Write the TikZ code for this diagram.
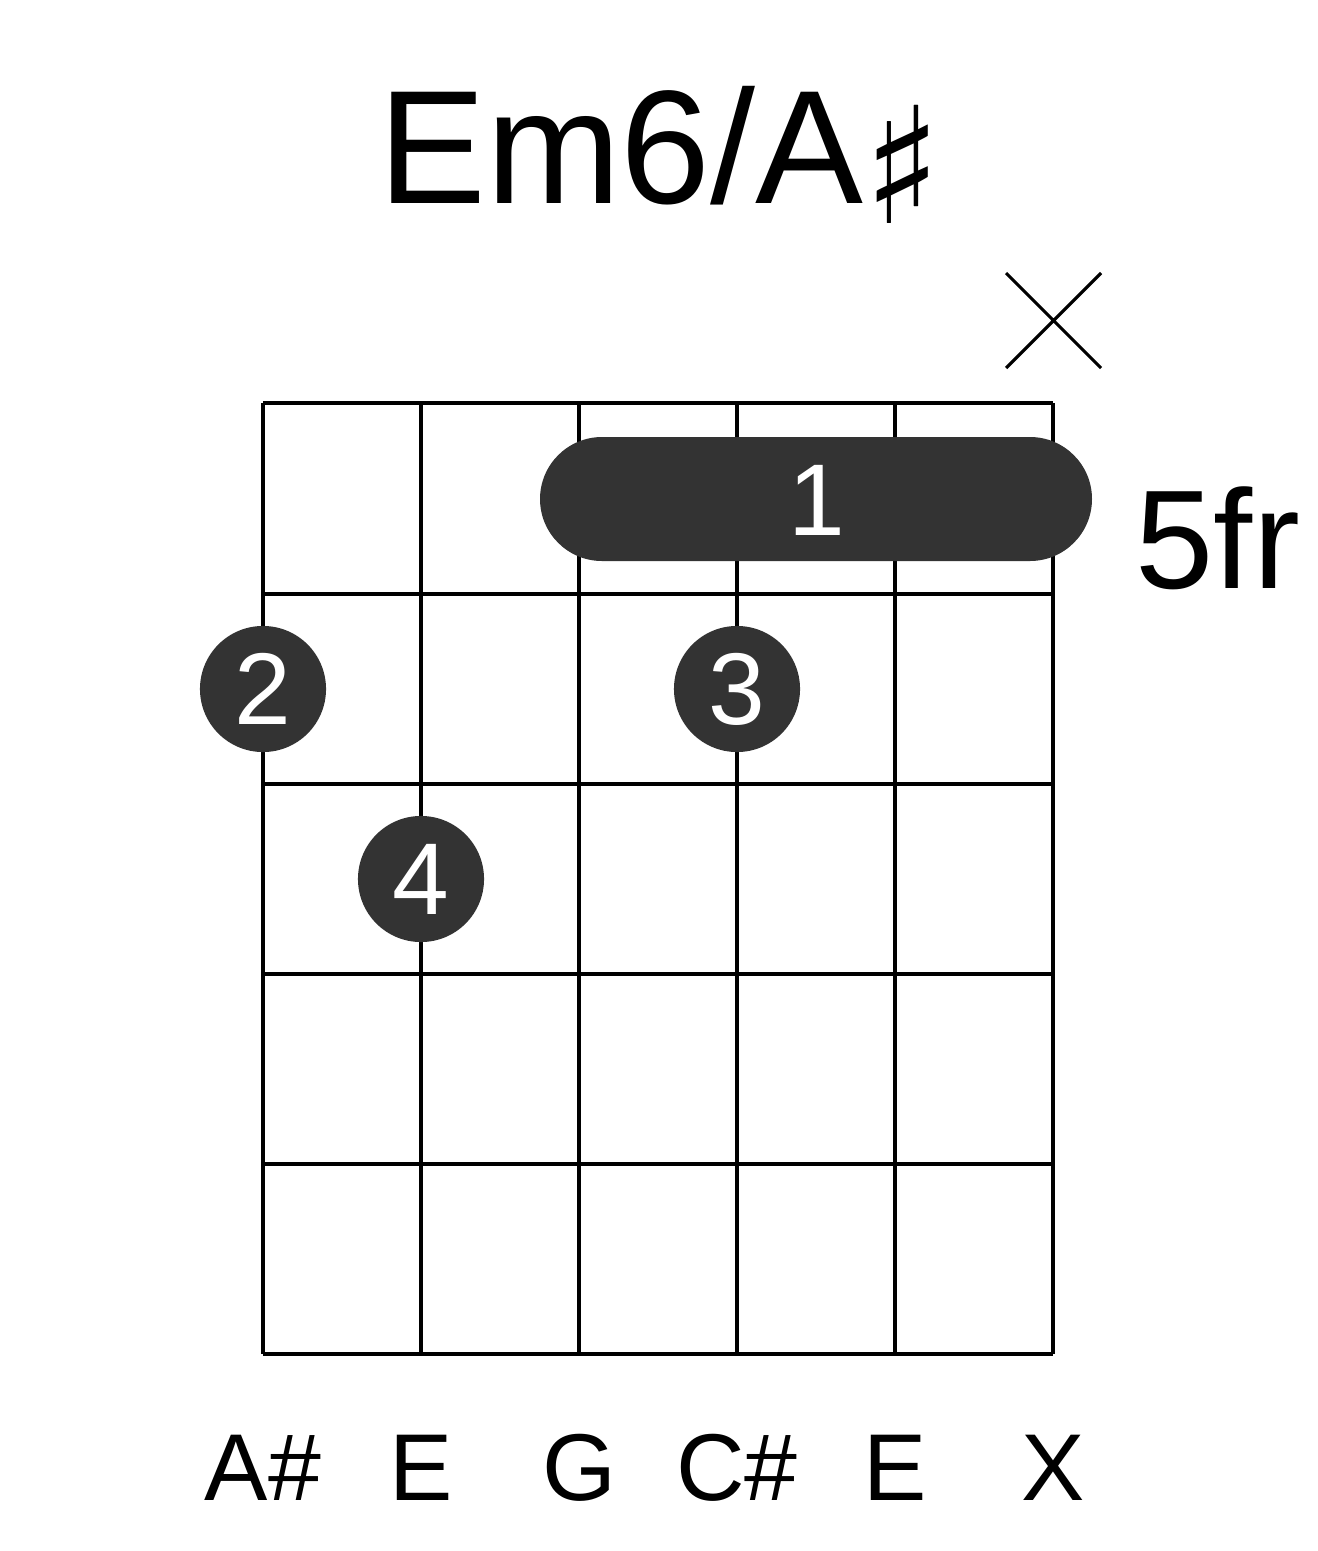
\documentclass[tikz,border=0pt]{standalone}
\usepackage{fontspec}
\setmainfont{Liberation Sans}
\newfontfamily\symfont{DejaVu Sans}
\definecolor{dotgray}{HTML}{333333}
\tikzset{
  finger/.style={circle,fill=dotgray,minimum size=1.26cm,inner sep=0pt,text=white,font=\fontsize{29}{29}\selectfont},
  note/.style={font=\fontsize{27}{27}\selectfont}
}
\begin{document}
\begin{tikzpicture}[x=0.01cm,y=-0.01cm]
        \useasboundingbox (0,0) rectangle (1317,1551);
        % grid
        \foreach \s in {263,421,579,737,895,1053}
          \draw[line width=1.3pt] (\s,403) -- (\s,1354);
        \foreach \f in {403,594,784,974,1164,1354}
          \draw[line width=1.3pt] (263,\f) -- (1053,\f);
        % title and fret
        \node (title) at (660,155) {\fontsize{46}{46}\selectfont Em6/A{\symfont\raisebox{-0.12em}{♯}}};
        \node[anchor=west,inner sep=0pt] (fret) at (1135,538) {\fontsize{40}{40}\selectfont 5fr};
        % muted string
        \coordinate (xa) at (1006,273);
        \coordinate (xb) at (1101,368);
        \coordinate (xc) at (1006,368);
        \coordinate (xd) at (1101,273);
        \draw[line width=0.9pt] (xa) -- (xb) (xc) -- (xd);
        % barre
        \fill[dotgray,rounded corners=0.62cm] (540,437) rectangle (1092,561);
        \node[text=white,font=\fontsize{29}{29}\selectfont] (b1) at (817,500) {1};
        % fingers
        \node[finger] (f2) at (263,689) {2};
        \node[finger] (f3) at (737,689) {3};
        \node[finger] (f4) at (421,879) {4};
        % notes
        \foreach \x/\n in {263/A\#,421/E,579/G,737/C\#,895/E,1053/X}
          \node[note] at (\x,1468) {\n};
\end{tikzpicture}
\end{document}
